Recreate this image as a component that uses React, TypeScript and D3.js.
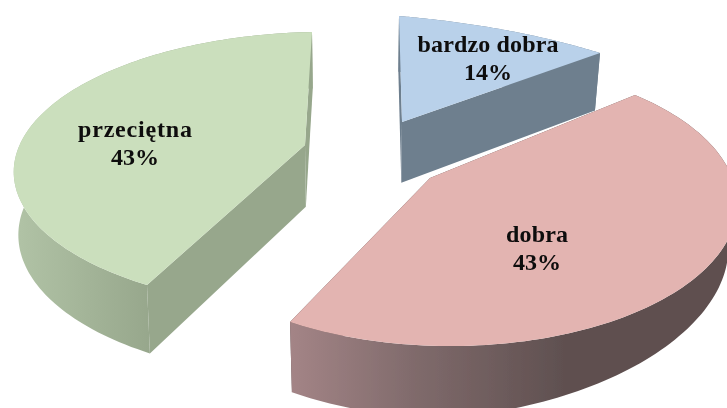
import React from "react";
import * as d3 from "d3";

const categories = ["bardzo dobra", "dobra", "przeciętna"];
const values = [14, 43, 43];
const percentLabels = ["14%", "43%", "43%"];
const topColors = ["#b9d1ea", "#e3b4b1", "#cbdfbd"];
const faceColors = ["#6e7f8e", "#5f5050", "#97a78c"];
const labelX = [488, 537, 135];
const labelY = [52, 242, 137];
const labelWidth = [141, 62, 114];

const W = 727, H = 408;
type P = [number, number];

// Camera calibration of each exploded slice's ground plane: where the slice's
// centre, its two rim ends and its rim midpoint land on the picture.
const planeCentre: P[] = [[402, 122], [430, 178], [305, 145]];
const planeStart: P[] = [[399, 16], [635, 95], [147, 285]];
const planeEnd: P[] = [[600, 53], [290, 322], [312, 32]];
const planeMid: P[] = [[505, 30], [695, 278], [38, 118]];
const wallConverge = [0.978, 0.976, 0.987];
const wallTaper = [0, 0.07, 0];

const pieGen = d3.pie<number>().sort(null).startAngle(0).endAngle(2 * Math.PI);
const arcs = pieGen(values);
const line = d3.line<P>().x(d => d[0]).y(d => d[1]);

function solve(A: number[][], b: number[]): number[] {
  const n = b.length;
  const M = A.map((r, i) => [...r, b[i]]);
  for (let c = 0; c < n; c++) {
    let p = c;
    for (let r = c + 1; r < n; r++) if (Math.abs(M[r][c]) > Math.abs(M[p][c])) p = r;
    [M[c], M[p]] = [M[p], M[c]];
    for (let r = 0; r < n; r++) {
      if (r === c) continue;
      const f = M[r][c] / M[c][c];
      for (let k = c; k <= n; k++) M[r][k] -= f * M[c][k];
    }
  }
  return M.map((r, i) => r[n] / r[i]);
}

function makeProjection(i: number) {
  const { startAngle: a0, endAngle: a1 } = arcs[i];
  const [cx, cy] = planeCentre[i];
  const A: number[][] = [];
  const b: number[] = [];
  const pairs: [number, P][] = [[a0, planeStart[i]], [a1, planeEnd[i]], [(a0 + a1) / 2, planeMid[i]]];
  pairs.forEach(([a, [x, y]]) => {
    const u = Math.sin(a), v = Math.cos(a);
    A.push([u, v, 0, 0, -u * x, -v * x]); b.push(x - cx);
    A.push([0, 0, u, v, -u * y, -v * y]); b.push(y - cy);
  });
  const h = solve(A, b);
  return (a: number): P => {
    const u = Math.sin(a), v = Math.cos(a);
    const w = h[4] * u + h[5] * v + 1;
    return [(h[0] * u + h[1] * v + cx) / w, (h[2] * u + h[3] * v + cy) / w];
  };
}

const vanishX = 370;
function dropper(i: number) {
  return (p: P): P => {
    const depth = 55 + 0.047 * p[1] - wallTaper[i] * Math.max(0, p[0] - 450);
    return [vanishX + (p[0] - vanishX) * wallConverge[i], p[1] + depth];
  };
}

export default function App() {
  return (
    <svg width={W} height={H} viewBox={`0 0 ${W} ${H}`} style={{ position: "absolute", left: 0, top: 0, background: "#fff" }}>
      <defs>
        <filter id="soft" x="-5%" y="-5%" width="110%" height="110%">
          <feGaussianBlur stdDeviation="0.55" />
        </filter>
        <filter id="softText" x="-5%" y="-20%" width="110%" height="140%">
          <feGaussianBlur stdDeviation="0.35" />
        </filter>
        <linearGradient id="wall0" gradientUnits="userSpaceOnUse" x1="400" x2="600" y1="0" y2="0">
          <stop offset="0" stopColor="#6e7f8e" />
          <stop offset="1" stopColor="#6e7f8e" />
        </linearGradient>
        <linearGradient id="wall1" gradientUnits="userSpaceOnUse" x1="292" x2="570" y1="0" y2="0">
          <stop offset="0" stopColor="#a38486" />
          <stop offset="0.45" stopColor="#7f6a6b" />
          <stop offset="1" stopColor="#5e4f4f" />
        </linearGradient>
        <linearGradient id="wall2" gradientUnits="userSpaceOnUse" x1="20" x2="150" y1="0" y2="0">
          <stop offset="0" stopColor="#b0c2a5" />
          <stop offset="1" stopColor="#97a78c" />
        </linearGradient>
      </defs>
      <g filter="url(#soft)">
        {arcs.map((arc, i) => {
          const proj = makeProjection(i);
          const drop = dropper(i);
          const r: P[] = d3.range(0, 121).map(k => proj(arc.startAngle + ((arc.endAngle - arc.startAngle) * k) / 120));
          const apex = planeCentre[i];
          const apexB = drop(apex);
          const first = r[0];
          const last = r[r.length - 1];
          const wall = [...r, ...r.map(drop).reverse()];
          const faceA: P[] = [apex, first, drop(first), apexB];
          const faceB: P[] = [apex, last, drop(last), apexB];
          const surface = [apex, ...r];
          return (
            <g key={categories[i]}>
              <path d={line(faceA) + "Z"} fill={faceColors[i]} />
              <path d={line(faceB) + "Z"} fill={faceColors[i]} />
              <path d={line(wall) + "Z"} fill={`url(#wall${i})`} />
              <path d={line(surface) + "Z"} fill={topColors[i]} />
            </g>
          );
        })}
      </g>
      <g filter="url(#softText)" fontFamily="'Liberation Serif', serif" fontWeight="bold" fontSize={24} fill="#0c0a0a">
        {categories.map((c, i) => (
          <g key={c}>
            <text x={labelX[i] - labelWidth[i] / 2} y={labelY[i]} textLength={labelWidth[i]} lengthAdjust="spacing">{c}</text>
            <text x={labelX[i]} y={labelY[i] + 28} textAnchor="middle">{percentLabels[i]}</text>
          </g>
        ))}
      </g>
    </svg>
  );
}
